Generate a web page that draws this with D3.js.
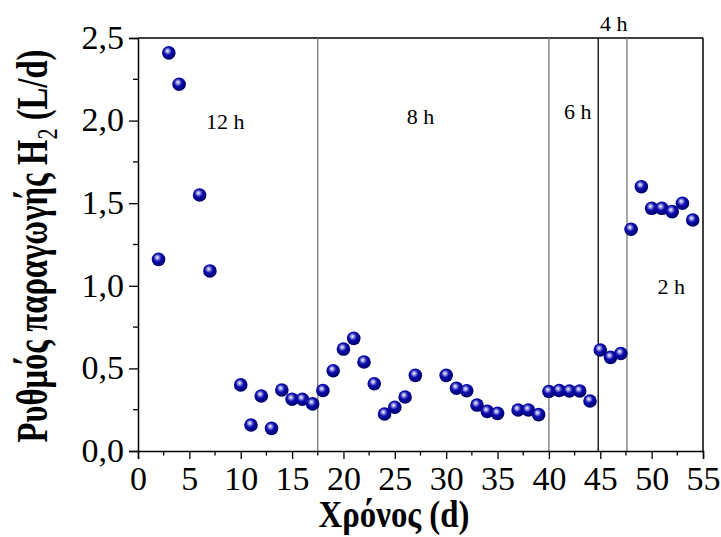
<!DOCTYPE html>
<html><head><meta charset="utf-8">
<script src="https://cdn.jsdelivr.net/npm/d3@7"></script>
<style>body{margin:0;background:#fff}svg{display:block}text{font-family:"Liberation Serif","Times New Roman",serif}</style>
</head><body>
<script>
const days   = [2,3,4,6,7,10,11,12,13,14,15,16,17,18,19,20,21,22,23,24,25,26,27,30,31,32,33,34,35,37,38,39,40,41,42,43,44,45,46,47,48,49,50,51,52,53,54];
const rates  = [1.16,2.41,2.22,1.55,1.09,0.40,0.157,0.333,0.137,0.369,0.313,0.313,0.285,0.366,0.486,0.617,0.682,0.539,0.407,0.224,0.265,0.327,0.458,0.458,0.38,0.365,0.278,0.24,0.228,0.248,0.248,0.22,0.36,0.366,0.363,0.363,0.303,0.611,0.567,0.59,1.342,1.60,1.469,1.469,1.449,1.50,1.398];
const dividers = [17.5,40,44.8,47.6];
const dividerColors = ["#777","#777","#000","#777"];
const phaseLabels = ["12 h","8 h","6 h","4 h","2 h"];
const phaseX = [8.5,27.5,42.8,46.3,51.9];
const phaseY = [1.95,1.98,2.01,2.545,0.95];
const xTicks = [0,5,10,15,20,25,30,35,40,45,50,55];
const yTicks = [0,0.5,1.0,1.5,2.0,2.5];

const W=721,H=537;
const svg=d3.select("body").append("svg").attr("width",W).attr("height",H);
const x=d3.scaleLinear().domain([0,55]).range([138,703]);
const y=d3.scaleLinear().domain([0,2.5]).range([451,38]);

const defs=svg.append("defs");
const g=defs.append("radialGradient").attr("id","ball").attr("cx","45%").attr("cy","40%").attr("r","60%").attr("fx","40%").attr("fy","35%");
g.append("stop").attr("offset","0%").attr("stop-color","#ffffff");
g.append("stop").attr("offset","20%").attr("stop-color","#9a9ae0");
g.append("stop").attr("offset","48%").attr("stop-color","#0c0cb0");
g.append("stop").attr("offset","100%").attr("stop-color","#000066");

// box
svg.append("line").attr("x1",x(0)).attr("x2",x(55)).attr("y1",y(2.5)).attr("y2",y(2.5)).attr("stroke","#000").attr("stroke-width",1.5);
svg.append("line").attr("x1",x(55)).attr("x2",x(55)).attr("y1",y(2.5)).attr("y2",y(0)).attr("stroke","#000").attr("stroke-width",1.5);

// dividers
svg.selectAll("line.div").data(dividers).enter().append("line").attr("class","div")
  .attr("x1",d=>x(d)).attr("x2",d=>x(d)).attr("y1",y(2.5)).attr("y2",y(0))
  .attr("stroke",(d,i)=>dividerColors[i]).attr("stroke-width",1.3);

// axes
const xAxis=d3.axisBottom(x).tickValues(xTicks).tickSize(8).tickFormat(d3.format("d"));
const xa=svg.append("g").attr("transform",`translate(0,${y(0)})`).call(xAxis);
xa.selectAll("line.minor").data(d3.range(2.5,55,5)).enter().append("line").attr("class","minor")
  .attr("x1",d=>x(d)).attr("x2",d=>x(d)).attr("y1",0).attr("y2",4.5).attr("stroke","#000").attr("stroke-width",1.3);
const fmt=d=>d3.format(".1f")(d).replace(".",",");
const yAxis=d3.axisLeft(y).tickValues(yTicks).tickSize(9).tickFormat(fmt);
const ya=svg.append("g").attr("transform",`translate(${x(0)},0)`).call(yAxis);
ya.selectAll("line.minor").data([0.25,0.75,1.25,1.75,2.25]).enter().append("line").attr("class","minor")
  .attr("x1",0).attr("x2",-5).attr("y1",d=>y(d)).attr("y2",d=>y(d)).attr("stroke","#000").attr("stroke-width",1.3);
[xa,ya].forEach(a=>{
  a.select(".domain").attr("stroke","#000").attr("stroke-width",1.5);
  a.selectAll(".tick line").attr("stroke","#000").attr("stroke-width",1.3);
  a.selectAll(".tick text").attr("font-size",34).attr("fill","#000");
});
xa.selectAll(".tick text").attr("y",39).attr("dy",0);
ya.selectAll(".tick text").attr("x",-14).attr("dy","0.3em");

// phase labels
svg.selectAll("text.ph").data(phaseLabels).enter().append("text").attr("class","ph")
  .attr("x",(d,i)=>x(phaseX[i])).attr("y",(d,i)=>y(phaseY[i])).attr("text-anchor","middle")
  .attr("font-size",22).attr("fill","#000").text(d=>d);

// points
svg.selectAll("circle.pt").data(days).enter().append("circle").attr("class","pt")
  .attr("cx",d=>x(d)).attr("cy",(d,i)=>y(rates[i])).attr("r",6.8).attr("fill","url(#ball)");

// axis titles
const xt=svg.append("text").attr("text-anchor","middle").attr("font-size",37).attr("font-weight","bold").attr("fill","#000");
xt.append("tspan").text("Χρόνος (d)");
{
  const w=xt.node().getComputedTextLength();
  const s=151/w;
  xt.attr("transform",`translate(394,527) scale(${s},1)`);
}

const yt=svg.append("text").attr("text-anchor","middle").attr("font-size",44).attr("font-weight","bold").attr("fill","#000");
yt.append("tspan").text("Ρυθμός παραγωγής H");
yt.append("tspan").attr("font-size",30).attr("font-weight","normal").attr("dy",10).text("2");
yt.append("tspan").attr("dy",-10).text(" (L/d)");
{
  const w=yt.node().getComputedTextLength();
  const s=393/w;
  yt.attr("transform",`translate(47,246) rotate(-90) scale(${s},1)`);
}
</script>
</body></html>
